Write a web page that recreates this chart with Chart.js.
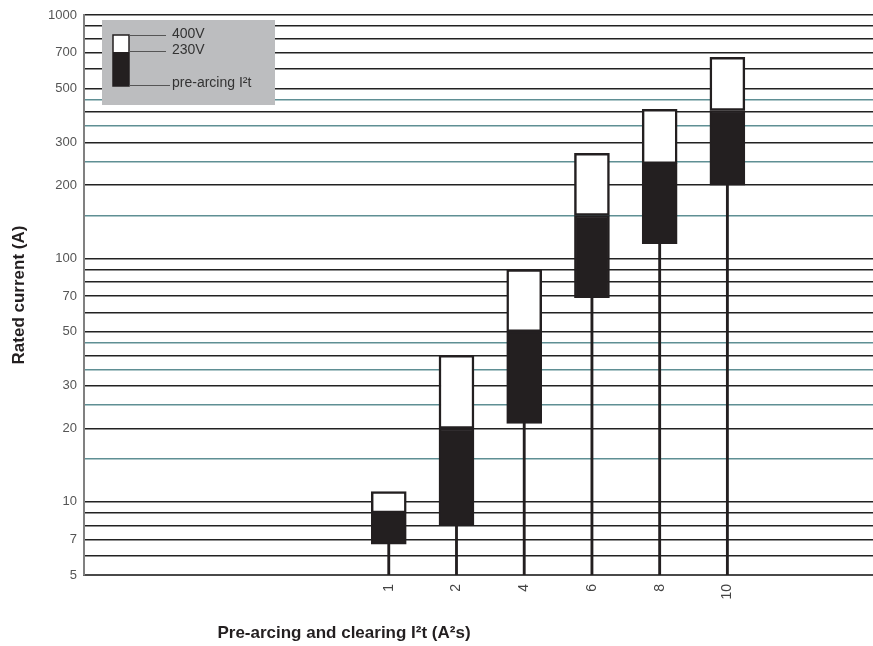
<!DOCTYPE html>
<html lang="en">
<head>
    <meta charset="UTF-8">
    <script src="https://cdn.jsdelivr.net/npm/chart.js"></script>
    <title>Rated current vs I2t</title>
    <style>
        body { margin: 0; background: #fff; }
        #wrap { width: 873px; height: 646px; }
    </style>
</head>
<body>
<div id="wrap">
    <canvas id="myChart" width="873" height="646"></canvas>
</div>
<script>
    // data
    const categories = ['1', '2', '4', '6', '8', '10'];
    const preArcing = [6.7, 8, 21, 69, 115, 200];   // bottom of black box
    const clearing230 = [9, 20, 50, 150, 245, 405]; // top of black box
    const clearing400 = [11, 40, 90, 270, 410, 670]; // top of white box
    const yMin = 5;
    const yMax = 1000;
    const gridBlack = [5, 6, 7, 8, 9, 10, 20, 30, 40, 50, 60, 70, 80, 90, 100,
        200, 300, 400, 500, 600, 700, 800, 900, 1000];
    const gridTeal = [15, 25, 35, 45, 150, 250, 350, 450];
    const yLabels = [5, 7, 10, 20, 30, 50, 70, 100, 200, 300, 500, 700, 1000];

    const FONT = "'Liberation Sans', Arial, sans-serif";
    const idx = categories.map((c, i) => i);

    const whisker = idx.map(i => ({ x: i, y: [yMin, preArcing[i]] }));
    const blackBox = idx.map(i => ({ x: i, y: [preArcing[i], clearing230[i]] }));
    const whiteBox = idx.map(i => ({ x: i, y: [clearing230[i], clearing400[i]] }));

    // legend box and x title
    const extras = {
        id: 'extras',
        afterDatasetsDraw(chart) {
            const c = chart.ctx;
            c.save();
            c.fillStyle = '#bcbdbf';
            c.fillRect(102, 20, 173, 85);
            c.fillStyle = '#fff';
            c.fillRect(113, 35, 16, 17);
            c.fillStyle = '#231f20';
            c.fillRect(113, 52, 16, 34);
            c.strokeStyle = '#231f20';
            c.lineWidth = 1.5;
            c.strokeRect(113, 35, 16, 51);
            c.strokeStyle = '#555';
            c.lineWidth = 1;
            c.beginPath();
            c.moveTo(129, 35.5); c.lineTo(166, 35.5);
            c.moveTo(129, 51.5); c.lineTo(166, 51.5);
            c.moveTo(129, 85.5); c.lineTo(170, 85.5);
            c.stroke();
            c.fillStyle = '#333';
            c.font = '14px ' + FONT;
            c.textBaseline = 'middle';
            c.fillText('400V', 172, 34);
            c.fillText('230V', 172, 50);
            c.fillText('pre-arcing I²t', 172, 83);
            c.restore();
        },
        afterDraw(chart) {
            const c = chart.ctx;
            c.save();
            c.fillStyle = '#231f20';
            c.font = 'bold 17px ' + FONT;
            c.textBaseline = 'alphabetic';
            c.textAlign = 'center';
            c.fillText('Pre-arcing and clearing I²t (A²s)', 344, 638);
            c.restore();
        }
    };

    const ctx = document.getElementById('myChart');
    const myChart = new Chart(ctx, {
        type: 'bar',
        data: {
            datasets: [{
                label: 'whisker',
                data: whisker,
                backgroundColor: '#231f20',
                barThickness: 2.2,
                grouped: false,
                borderWidth: 0
            }, {
                label: 'pre-arcing I²t',
                data: blackBox,
                backgroundColor: '#231f20',
                borderColor: '#231f20',
                borderWidth: 2,
                borderSkipped: false,
                barThickness: 35,
                grouped: false
            }, {
                label: '400V',
                data: whiteBox,
                backgroundColor: '#fff',
                borderColor: '#231f20',
                borderWidth: 2.5,
                borderSkipped: false,
                barThickness: 35,
                grouped: false
            }]
        },
        options: {
            responsive: false,
            animation: false,
            layout: { padding: { top: 15, right: 0, bottom: 0, left: 0 } },
            plugins: {
                legend: { display: false },
                tooltip: { enabled: false }
            },
            scales: {
                x: {
                    type: 'linear',
                    offset: false,
                    min: -4.5,
                    max: 7.15,
                    afterBuildTicks: s => { s.ticks = idx.map(v => ({ value: v })); },
                    afterFit: s => { s.height = 71; },
                    grid: { display: false, drawTicks: false },
                    border: { color: '#4a4a4a', width: 2 },
                    ticks: {
                        autoSkip: false,
                        minRotation: 90,
                        maxRotation: 90,
                        padding: 9,
                        color: '#444',
                        font: { family: FONT, size: 14 },
                        callback: v => categories[v]
                    }
                },
                y: {
                    type: 'logarithmic',
                    min: yMin,
                    max: yMax,
                    afterBuildTicks: s => {
                        s.ticks = gridBlack.concat(gridTeal).sort((a, b) => a - b).map(v => ({ value: v }));
                    },
                    afterFit: s => { s.width = 84; },
                    grid: {
                        drawTicks: false,
                        color: c => gridTeal.includes(c.tick && c.tick.value) ? '#5f8f94' : '#222',
                        lineWidth: 1.4
                    },
                    border: { color: '#808080', width: 2 },
                    ticks: {
                        autoSkip: false,
                        padding: 7,
                        color: '#555',
                        font: { family: FONT, size: 13 },
                        callback: v => yLabels.includes(v) ? String(v) : ''
                    },
                    title: {
                        display: true,
                        text: 'Rated current (A)',
                        color: '#231f20',
                        font: { family: FONT, size: 17, weight: 'bold' },
                        padding: { top: 9, bottom: 0 }
                    }
                }
            }
        },
        plugins: [extras]
    });
</script>
</body>
</html>
